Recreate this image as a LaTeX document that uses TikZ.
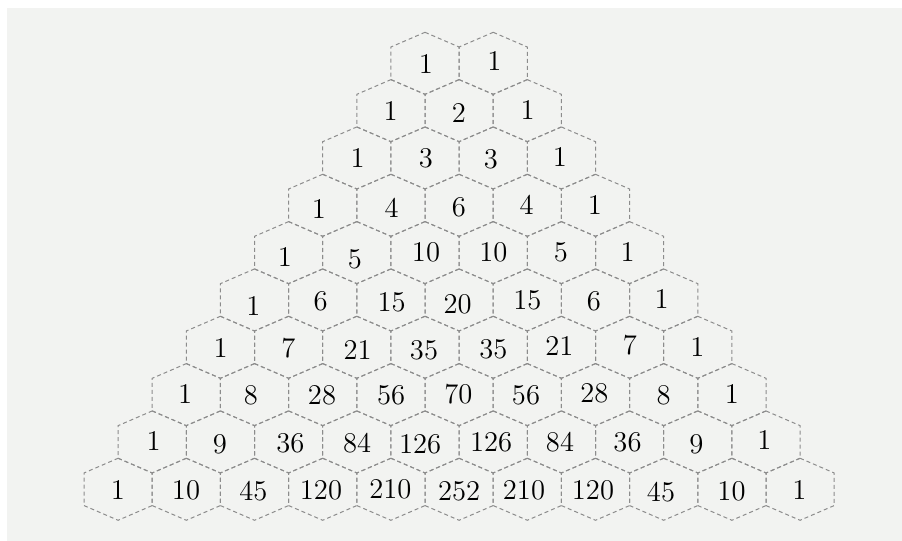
\documentclass[tikz,border=0pt]{standalone}
\definecolor{bggray}{RGB}{242,243,241}
\definecolor{hexgray}{RGB}{140,140,140}
\tikzset{
  hexline/.style={draw=hexgray, line width=0.5pt, dash pattern=on 2pt off 1.5pt},
  num/.style={inner sep=0pt, font=\fontsize{14.3}{17}\selectfont, text=black}
}
\begin{document}
\begin{tikzpicture}[x=0.5pt,y=-0.5pt]
\useasboundingbox (0,0) rectangle (902,541);
\fill[bggray] (7,8) rectangle (902,541);
% hexagon grid
\foreach \r in {1,...,10}{
  \foreach \k in {0,...,\r}{
    \pgfmathsetmacro\cx{425-(\r-1)*34.1+\k*68.2}
    \pgfmathsetmacro\cy{63.3+(\r-1)*47.33}
    \draw[hexline] (\cx,\cy) +(0,-31) -- +(34.1,-16.3) -- +(34.1,16.3) -- +(0,31)
      -- +(-34.1,16.3) -- +(-34.1,-16.3) -- cycle;
  }
}
% numbers
\foreach \r/\k/\x/\y/\t in {
  1/0/426/64.3/1, 1/1/494.3/60.7/1,
  2/0/390.7/111/1, 2/1/459/112.7/2, 2/2/527.7/110/1,
  3/0/357.7/157.7/1, 3/1/426/158.3/3, 3/2/491/159.3/3, 3/3/560/157/1,
  4/0/319/209.3/1, 4/1/391.7/208.3/4, 4/2/459/207.3/6, 4/3/526.7/205/4, 4/4/595/205/1,
  5/0/285/257.3/1, 5/1/355/259/5, 5/2/426/252.7/10, 5/3/493.3/252.7/10, 5/4/561/252.7/5, 5/5/627.7/251.7/1,
  6/0/253.3/306/1, 6/1/320.7/301.7/6, 6/2/391.7/302.3/15, 6/3/457.7/304/20, 6/4/527.3/300.7/15, 6/5/594/301/6, 6/6/661.7/299.3/1,
  7/0/220.7/347.7/1, 7/1/288.3/348.3/7, 7/2/357.7/350/21, 7/3/424/350/35, 7/4/493.3/349.3/35, 7/5/559.3/346/21, 7/6/630/345/7, 7/7/697.3/347.3/1,
  8/0/185.1/394/1, 8/1/251/395/8, 8/2/322/395.7/28, 8/3/391.2/395/56, 8/4/458.4/394/70, 8/5/526/395/56, 8/6/594.3/393.3/28, 8/7/663.6/395.7/8, 8/8/732/394/1,
  9/0/153.6/441/1, 9/1/220/444/9, 9/2/290.4/443.3/36, 9/3/357.2/443.3/84, 9/4/420.2/444/126, 9/5/491.1/442.3/126, 9/6/560/441.7/84, 9/7/627.5/442.7/36, 9/8/696.3/444/9, 9/9/764.3/440/1,
  10/0/117.8/490/1, 10/1/186/490.7/10, 10/2/253.5/490.7/45, 10/3/321/490/120, 10/4/390.4/489.7/210, 10/5/459.2/491/252, 10/6/524/490.7/210, 10/7/593/490.7/120, 10/8/661/491.7/45, 10/9/731.5/491.7/10, 10/10/799.5/490/1}{
  \node[num] (n\r-\k) at (\x,\y) {\t};
}
\end{tikzpicture}
\end{document}
